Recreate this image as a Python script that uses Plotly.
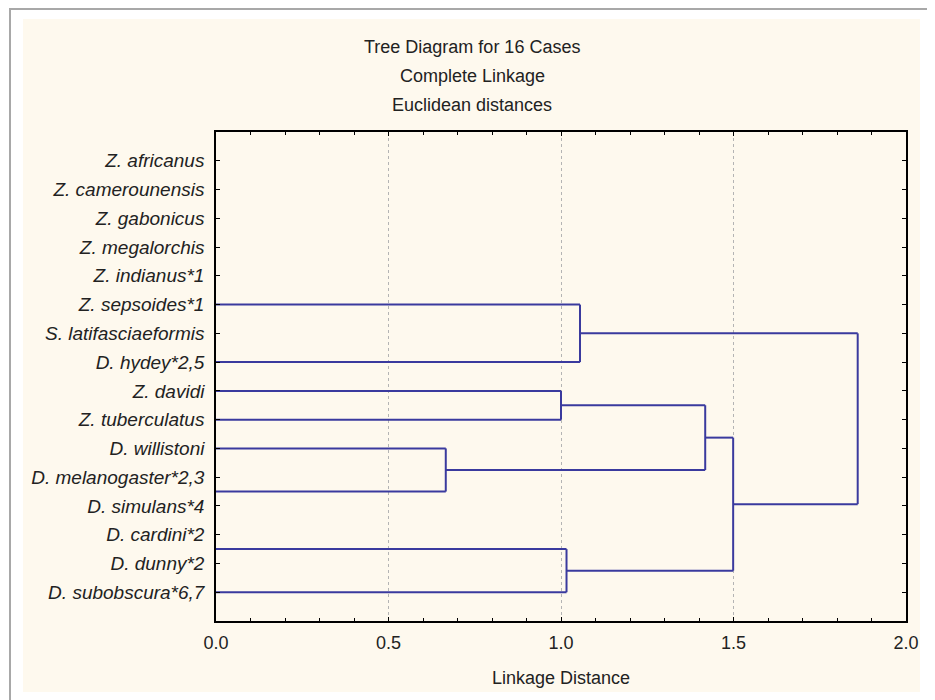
import plotly.graph_objects as go

# ---------------- data ----------------
leaves = [
    "Z. africanus", "Z. camerounensis", "Z. gabonicus", "Z. megalorchis",
    "Z. indianus*1", "Z. sepsoides*1", "S. latifasciaeformis", "D. hydey*2,5",
    "Z. davidi", "Z. tuberculatus", "D. willistoni", "D. melanogaster*2,3",
    "D. simulans*4", "D. cardini*2", "D. dunny*2", "D. subobscura*6,7",
]
leaf_rows = list(range(1, len(leaves) + 1))

# rows (1 = top) where the tree branches start
branch_rows = [6, 8, 9, 10, 11, 12.5, 14.5, 16]
# merges: node ids 0..7 are branches, new nodes get ids 8, 9, ...
merge_left = [0, 2, 4, 9, 6, 11, 8]
merge_right = [1, 3, 5, 10, 7, 12, 13]
merge_height = [1.055, 1.0, 0.666, 1.418, 1.016, 1.499, 1.860]

x_ticks = [0.0, 0.5, 1.0, 1.5, 2.0]

title_lines = ["Tree Diagram for 16 Cases", "Complete Linkage", "Euclidean distances"]
x_title = "Linkage Distance"

# ---------------- layout geometry (pixels, in screenshot coordinates) ----------------
OFF = 8  # default page margin of the html body
W, H = 935 - OFF, 700 - OFF
L, R, T, B = 216 - OFF, 906 - OFF, 132 - OFF, 621 - OFF
pw, ph = R - L, B - T


def xp(px):
    return (px - OFF - L) / pw


def yp(py):
    return (B - (py - OFF)) / ph


# ---------------- build dendrogram segments ----------------
node_x = [0.0] * len(branch_rows)
node_y = list(branch_rows)
xs, ys = [], []
for a, b, h in zip(merge_left, merge_right, merge_height):
    for c in (a, b):
        xs += [node_x[c], h, None]
        ys += [node_y[c], node_y[c], None]
    xs += [h, h, None]
    ys += [node_y[a], node_y[b], None]
    node_x.append(h)
    node_y.append((node_y[a] + node_y[b]) / 2)

line_color = "#3a3a9e"
text_color = "#222222"
font_family = "Liberation Sans, Arial, sans-serif"

fig = go.Figure()
fig.add_trace(go.Scatter(
    x=xs, y=ys, mode="lines",
    line=dict(color=line_color, width=2),
    hoverinfo="skip", showlegend=False,
))

shapes = [
    # cream background panel
    dict(type="rect", xref="paper", yref="paper",
         x0=xp(23), x1=xp(920), y0=yp(692), y1=yp(19),
         fillcolor="#fef9ee", line=dict(width=0), layer="below"),
    # outer frame (left)
    dict(type="line", xref="paper", yref="paper",
         x0=xp(10), x1=xp(10), y0=yp(8), y1=yp(700),
         line=dict(color="#a8a8a8", width=2)),
    dict(type="line", xref="paper", yref="paper",
         x0=xp(10), x1=xp(935), y0=yp(9), y1=yp(9),
         line=dict(color="#a8a8a8", width=2)),
]

annotations = []
for i, t in enumerate(title_lines):
    annotations.append(dict(
        text=t, xref="paper", yref="paper",
        x=xp(472), y=yp(47 + 29 * i), xanchor="center", yanchor="middle",
        showarrow=False, font=dict(family=font_family, size=18, color=text_color),
    ))

fig.update_layout(
    width=W, height=H,
    margin=dict(l=L, r=W - R, t=T, b=H - B),
    paper_bgcolor="white",
    plot_bgcolor="white",
    shapes=shapes,
    annotations=annotations,
    font=dict(family=font_family, color=text_color),
)

fig.update_xaxes(
    range=[0, 2], tickvals=x_ticks, tickformat=".1f",
    ticks="inside", ticklen=4, tickcolor="black",
    showline=True, linecolor="black", linewidth=1.5, mirror="ticks",
    showgrid=True, gridcolor="#b4b4b4", griddash="dot", gridwidth=1,
    zeroline=False,
    minor=dict(dtick=0.1, ticks="inside", ticklen=3, tickcolor="black", showgrid=False),
    tickfont=dict(family=font_family, size=18, color=text_color),
    ticklabelstandoff=5,
    title=dict(text=x_title, standoff=19,
               font=dict(family=font_family, size=18, color=text_color)),
)

fig.update_yaxes(
    range=[17, 0], tickvals=leaf_rows, ticktext=leaves,
    ticks="inside", ticklen=4, tickcolor="black",
    showline=True, linecolor="black", linewidth=1.5, mirror="ticks",
    showgrid=False, zeroline=False,
    tickfont=dict(family=font_family, size=19, color=text_color, style="italic"),
    ticklabelstandoff=6,
)

fig.write_html("out.html")
